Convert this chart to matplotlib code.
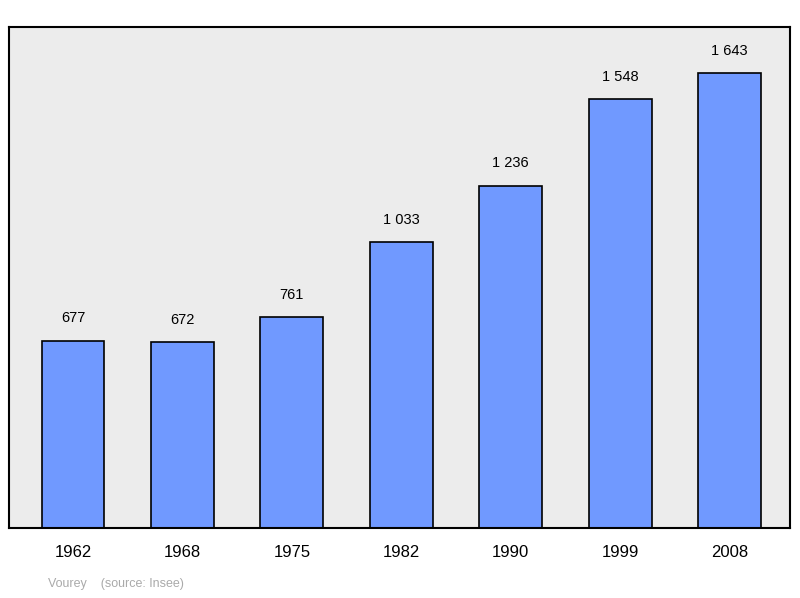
import matplotlib
matplotlib.use("Agg")
import matplotlib.pyplot as plt

years = ["1962", "1968", "1975", "1982", "1990", "1999", "2008"]
population = [677, 672, 761, 1033, 1236, 1548, 1643]
labels = ["677", "672", "761", "1 033", "1 236", "1 548", "1 643"]

fig = plt.figure(figsize=(8, 5.98), dpi=100)
ax = fig.add_axes([9/800, 1-528/598, (790-9)/800, (528-27)/598])
ax.set_facecolor("#ececec")
x = list(range(len(years)))
ax.bar(x, population, width=0.575, color="#7099ff", edgecolor="black", linewidth=1.2, zorder=2)
for xi, v, l in zip(x, population, labels):
    ax.text(xi, v + 55, l, ha="center", va="bottom", fontsize=10.5, family="Liberation Sans")
ax.set_xlim(-0.585, 6.553)
ax.set_ylim(0, 1809)
ax.set_yticks([])
ax.set_xticks(x)
ax.set_xticklabels(years, fontsize=12, family="Liberation Sans")
ax.tick_params(axis="x", length=0, pad=12)
for s in ax.spines.values():
    s.set_linewidth(1.5)
fig.text(48/800, 1-584/598, "Vourey    (source: Insee)", color="#aaaaaa", fontsize=9, family="Liberation Sans", va="center")
fig.savefig("out.png", dpi=100)
